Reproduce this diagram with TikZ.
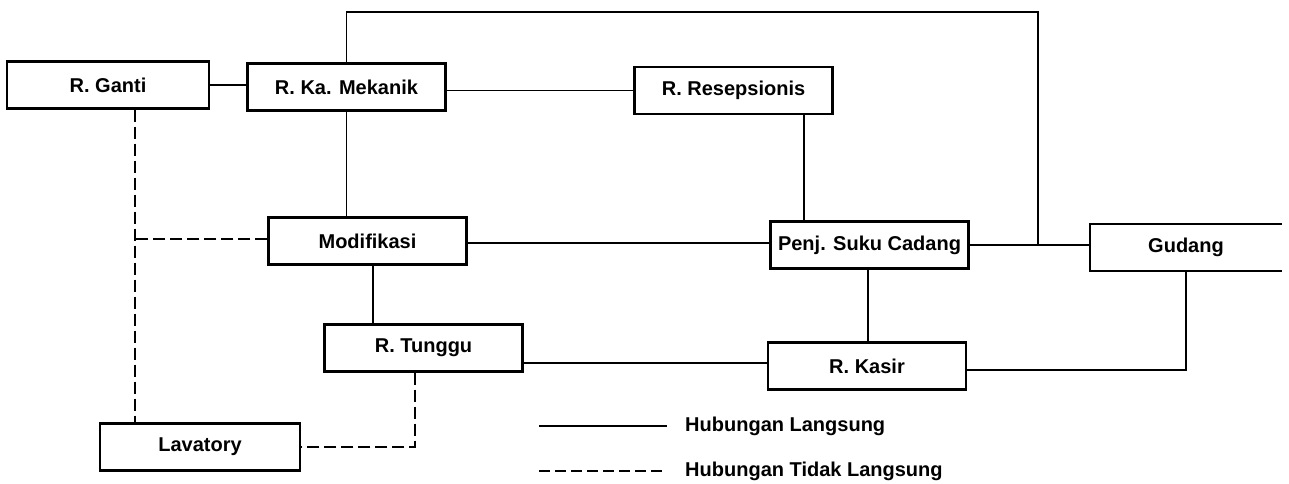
\documentclass[tikz,border=0pt]{standalone}
\usepackage{fontspec}
\setmainfont{Liberation Sans}
\begin{document}
\begin{tikzpicture}[x=1pt,y=-1pt,
  box/.style={draw, line width=2.1pt, minimum width=198pt, minimum height=47pt, inner sep=0pt, font=\bfseries\fontsize{20}{22}\selectfont},
  openbox/.style={minimum width=192pt, minimum height=47pt, inner sep=0pt, font=\bfseries\fontsize{20}{22}\selectfont},
  conn/.style={line width=1.8pt},
  dconn/.style={line width=1.8pt, dash pattern=on 12pt off 5pt},
  ldconn/.style={line width=1.8pt, dash pattern=on 11pt off 5pt},
  lbl/.style={font=\bfseries\fontsize{20}{22}\selectfont, inner sep=0pt}]
\useasboundingbox (0,0) rectangle (1289,484);
% rooms
\node[box, minimum width=202pt] (ganti) at (108,85) {R. Ganti};
\node[box] (ka) at (346.5,87) {R. Ka. Mekanik};
\node[box] (resep) at (733.5,90.5) {R. Resepsionis};
\node[box] (mod) at (367.5,241) {Modifikasi};
\node[box] (penj) at (869.5,245) {Penj. Suku Cadang};
\node[box] (tunggu) at (423.5,348) {R. Tunggu};
\node[box] (kasir) at (867,366) {R. Kasir};
\node[box, minimum width=200pt] (lav) at (200,447) {Lavatory};
\node[openbox] (gudang) at (1186,247.5) {Gudang};
\draw[line width=2.1pt] (gudang.north east) -- (gudang.north west) -- (gudang.south west) -- (gudang.south east);
% direct connections
\coordinate (junc) at (1038,245);
\draw[conn] (ganti.east) -- (ganti.east -| ka.west);
\draw[conn] (ka.east |- resep.west) -- (resep.west);
\draw[conn] (ka.south) -- (ka.south |- mod.north);
\draw[conn] (ka.north) -- (ka.north |- 0,12) -| (junc);
\draw[conn] (penj.east) -- (penj.east -| gudang.west);
\draw[conn] (mod.east |- 0,243) -- (penj.west |- 0,243);
\draw[conn] (resep.south -| 804,0) -- (penj.north -| 804,0);
\draw[conn] (penj.south -| 868,0) -- (kasir.north -| 868,0);
\draw[conn] (mod.south -| 373,0) -- (tunggu.north -| 373,0);
\draw[conn] (tunggu.east |- 0,363) -- (kasir.west |- 0,363);
\draw[conn] (kasir.east |- 0,370) -| (gudang.south);
% indirect connections
\coordinate (dj) at (135,239);
\draw[dconn] (ganti.south -| dj) -- (lav.north -| dj);
\draw[dconn] (mod.west |- dj) -- (dj);
\draw[dconn] (tunggu.south -| 415,0) |- (lav.east);
% legend
\coordinate (l1a) at (539,426);
\coordinate (l1b) at (667,426);
\coordinate (l2a) at (539,471);
\coordinate (l2b) at (667,471);
\draw[conn] (l1a) -- (l1b);
\draw[ldconn] (l2a) -- (l2b);
\node[lbl, anchor=west] (t1) at (685,426) {Hubungan Langsung};
\node[lbl, anchor=west] (t2) at (685,471) {Hubungan Tidak Langsung};
\end{tikzpicture}
\end{document}
